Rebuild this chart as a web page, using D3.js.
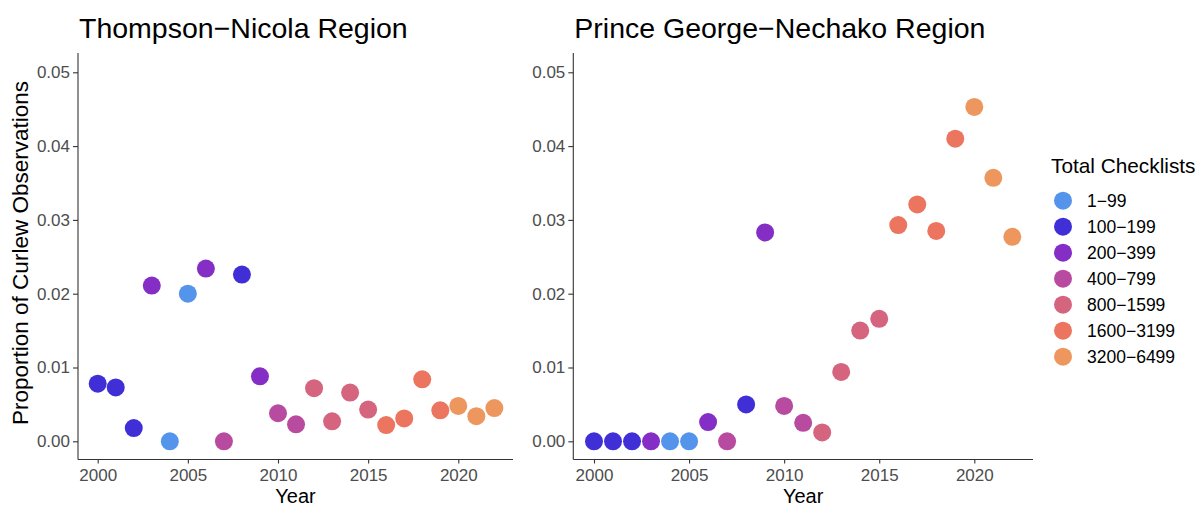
<!DOCTYPE html>
<html lang="en">
<head>
  <meta charset="UTF-8">
  <title>Curlew Observations</title>
  <script src="https://d3js.org/d3.v7.min.js"></script>
  <style>
    body { margin: 0; background: #fff; }
    text { font-family: "Liberation Sans", Arial, sans-serif; }
    .axis path, .axis line { stroke: #333; stroke-width: 1.1; }
    .axis text { font-size: 17px; fill: #4d4d4d; }
  </style>
</head>
<body>
  <svg id="svg" width="1198" height="506"></svg>
  <script>
    // data
    var years = d3.range(2000, 2023)
    var bins = ['1-99', '100-199', '200-399', '400-799', '800-1599', '1600-3199', '3200-6499']
    var binColors = ['#5495eb', '#402fd6', '#852ec6', '#b84b9f', '#d5647f', '#eb755f', '#ed975f']

    var tnValues = [0.0078, 0.0073, 0.0018, 0.0211, 0.0000, 0.0200, 0.0234, 0.0000, 0.0226, 0.0088,
                    0.0038, 0.0023, 0.0072, 0.0027, 0.0066, 0.0043, 0.0022, 0.0031, 0.0084, 0.0042,
                    0.0048, 0.0034, 0.0045]
    var tnBins = [1, 1, 1, 2, 0, 0, 2, 3, 1, 2, 3, 3, 4, 4, 4, 4, 5, 5, 5, 5, 6, 6, 6]

    var pgValues = [0.0000, 0.0000, 0.0000, 0.0000, 0.0000, 0.0000, 0.0026, 0.0000, 0.0050, 0.0283,
                    0.0048, 0.0025, 0.0012, 0.0094, 0.0150, 0.0166, 0.0293, 0.0321, 0.0285, 0.0410,
                    0.0453, 0.0357, 0.0277]
    var pgBins = [1, 1, 1, 2, 0, 0, 2, 3, 1, 2, 3, 3, 4, 4, 4, 4, 5, 5, 5, 5, 6, 6, 6]

    var yTicks = [0, 0.01, 0.02, 0.03, 0.04, 0.05]
    var xTicks = [2000, 2005, 2010, 2015, 2020]

    var svg = d3.select('#svg')
    var color = d3.scaleOrdinal().domain(bins).range(binColors)

    var yScale = d3.scaleLinear().domain([0, 0.05]).range([441.3, 72.3])

    function panel(left, right, x2000, x2020, title, values, binIdx) {
      var xScale = d3.scaleLinear().domain([2000, 2020]).range([x2000, x2020])
      var g = svg.append('g')

      g.append('g')
        .attr('class', 'axis')
        .attr('transform', 'translate(' + left + ',0)')
        .call(d3.axisLeft(yScale).tickValues(yTicks).tickFormat(d3.format('.2f')).tickSize(5).tickPadding(3))
        .call(a => a.select('.domain').attr('d', 'M0,53V459.5'))

      g.append('g')
        .attr('class', 'axis')
        .attr('transform', 'translate(0,459.5)')
        .call(d3.axisBottom(xScale).tickValues(xTicks).tickFormat(d3.format('d')).tickSize(4).tickPadding(5))
        .call(a => a.select('.domain').attr('d', 'M' + left + ',0H' + right))

      g.selectAll('circle')
        .data(years)
        .enter()
        .append('circle')
        .attr('cx', d => xScale(d))
        .attr('cy', (d, i) => yScale(values[i]))
        .attr('r', 9)
        .attr('fill', (d, i) => color(bins[binIdx[i]]))

      g.append('text')
        .attr('x', left + 1)
        .attr('y', 38)
        .attr('font-size', 28.5)
        .attr('fill', '#000')
        .text(title)

      g.append('text')
        .attr('x', (left + right) / 2)
        .attr('y', 503)
        .attr('text-anchor', 'middle')
        .attr('font-size', 20)
        .attr('fill', '#000')
        .text('Year')
    }

    panel(78, 513, 97.7, 458.3, 'Thompson\u2212Nicola Region', tnValues, tnBins)
    panel(573.3, 1033, 594, 974.3, 'Prince George\u2212Nechako Region', pgValues, pgBins)

    svg.append('text')
      .attr('transform', 'translate(28,253) rotate(-90)')
      .attr('text-anchor', 'middle')
      .attr('font-size', 22.5)
      .attr('fill', '#000')
      .text('Proportion of Curlew Observations')

    // legend
    var legend = svg.append('g').attr('transform', 'translate(1051,0)')
    legend.append('text')
      .attr('x', 0)
      .attr('y', 173)
      .attr('font-size', 20.8)
      .attr('fill', '#000')
      .text('Total Checklists')

    var items = legend.selectAll('g.item')
      .data(bins)
      .enter()
      .append('g')
      .attr('class', 'item')
      .attr('transform', (d, i) => 'translate(0,' + (200.7 + i * 26) + ')')
    items.append('circle')
      .attr('cx', 12)
      .attr('r', 9)
      .attr('fill', d => color(d))
    items.append('text')
      .attr('x', 36)
      .attr('y', 6)
      .attr('font-size', 17.5)
      .attr('fill', '#000')
      .text(d => d.replace('-', '\u2212'))
  </script>
</body>
</html>
